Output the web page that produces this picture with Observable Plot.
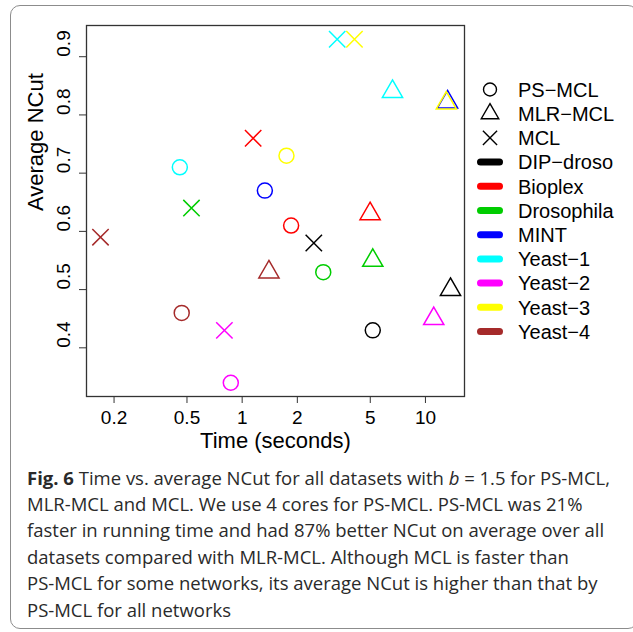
<!DOCTYPE html>
<html>
<head>
<meta charset="utf-8">
<script src="https://cdn.jsdelivr.net/npm/d3@7"></script>
<script src="https://cdn.jsdelivr.net/npm/@observablehq/plot@0.6"></script>
<style>
  html, body { margin: 0; padding: 0; background: #fff; }
  #wrap { position: relative; width: 633px; height: 632px; overflow: hidden; }
  #box { position: absolute; left: 10px; top: 5px; width: 628px; height: 624px;
         border: 1.5px solid #8c8c8c; border-radius: 10px; box-sizing: border-box; }
  #chart { position: absolute; left: 0; top: 0; }
  #legend { position: absolute; left: 0; top: 0; }
  #cap { position: absolute; left: 27px; top: 464.6px; font-family: "Open Sans", sans-serif;
         font-size: 18.6px; line-height: 26.4px; color: #2a2a2a; transform-origin: 0 0; white-space: nowrap; }
  #cap b { font-weight: 700; }
</style>
</head>
<body>
<div id="wrap">
  <div id="box"></div>
  <div id="chart"></div>
  <svg id="legend" width="633" height="460"></svg>
  <div id="cap">
    <div class="ln" id="ln1"><b>Fig. 6</b> Time vs. average NCut for all datasets with <i>b</i> = 1.5 for PS-MCL,</div>
    <div class="ln">MLR-MCL and MCL. We use 4 cores for PS-MCL. PS-MCL was 21%</div>
    <div class="ln">faster in running time and had 87% better NCut on average over all</div>
    <div class="ln">datasets compared with MLR-MCL. Although MCL is faster than</div>
    <div class="ln">PS-MCL for some networks, its average NCut is higher than that by</div>
    <div class="ln">PS-MCL for all networks</div>
  </div>
</div>
<script>
// ---- data ----
const datasets = ["DIP-droso", "Bioplex", "Drosophila", "MINT", "Yeast-1", "Yeast-2", "Yeast-3", "Yeast-4"];
const colors   = ["#000000", "#FF0000", "#00CD00", "#0000FF", "#00FFFF", "#FF00FF", "#FFFF00", "#A52A2A"];
const methods  = ["PS-MCL", "MLR-MCL", "MCL"];
const symbols  = ["circle", "triangle", "times"];

// Time (seconds) and Average NCut per dataset
const psTime  = [5.16, 1.85, 2.77, 1.33, 0.457, 0.867, 1.745, 0.468];
const psNcut  = [0.43, 0.61, 0.53, 0.67, 0.71, 0.34, 0.73, 0.46];
const mlrTime = [13.7, 4.99, 5.16, 13.2, 6.61, 11.1, 13.0, 1.40];
const mlrNcut = [0.50, 0.63, 0.55, 0.822, 0.84, 0.45, 0.82, 0.53];
const mclTime = [2.46, 1.148, 0.529, null, 3.30, 0.80, 4.10, 0.1687];
const mclNcut = [0.58, 0.76, 0.64, null, 0.93, 0.43, 0.93, 0.59];

const xTicks = [0.2, 0.5, 1, 2, 5, 10];
const yTicks = [0.4, 0.5, 0.6, 0.7, 0.8, 0.9];
const xTitle = "Time (seconds)";
const yTitle = "Average NCut";

// ---- build table ----
const series = [[psTime, psNcut], [mlrTime, mlrNcut], [mclTime, mclNcut]];
const points = [];
series.forEach(([ts, ns], m) => {
  datasets.forEach((d, i) => {
    if (ts[i] != null) points.push({set: d, method: methods[m], t: ts[i], n: ns[i]});
  });
});

// R-style 4% padding of the data range
const [tmin, tmax] = d3.extent(points, d => d.t);
const lo = Math.log10(tmin), hi = Math.log10(tmax), px = (hi - lo) * 0.04;
const [nmin, nmax] = d3.extent(points, d => d.n);
const py = (nmax - nmin) * 0.04;

const plot = Plot.plot({
  width: 633, height: 460,
  marginLeft: 86, marginRight: 169, marginTop: 25, marginBottom: 64,
  style: {fontFamily: "'Liberation Sans', Arial, sans-serif", fontSize: "19px", background: "transparent", color: "#000"},
  x: {type: "log", domain: [10 ** (lo - px), 10 ** (hi + px)], axis: null},
  y: {domain: [nmin - py, nmax + py], axis: null},
  color: {type: "ordinal", domain: datasets, range: colors},
  symbol: {domain: methods, range: symbols},
  marks: [
    Plot.frame({stroke: "#333", strokeWidth: 1.3}),
    Plot.axisX({ticks: xTicks, tickSize: 7, tickPadding: 7, tickFormat: d => String(d), label: null, fontSize: 19, stroke: "#333"}),
    Plot.axisY({ticks: yTicks, tickSize: 7, tickFormat: () => "", label: null, stroke: "#333"}),
    Plot.text(yTicks, {y: d => d, text: d => d.toFixed(1), frameAnchor: "left", dx: -22.5, rotate: -90, fontSize: 19}),
    Plot.text([xTitle], {text: d => d, frameAnchor: "bottom", dy: 51, fontSize: 22}),
    Plot.text([yTitle], {text: d => d, frameAnchor: "left", dx: -51, rotate: -90, fontSize: 22}),
    Plot.dot(points, {x: "t", y: "n", symbol: "method", stroke: "set", r: 7.5, strokeWidth: 1.5, fill: "none"})
  ]
});
document.getElementById("chart").appendChild(plot);

// ---- legend ----
const lg = d3.select("#legend");
const symMap = {circle: d3.symbolCircle, triangle: d3.symbolTriangle, times: d3.symbolTimes};
const rowY0 = 89.5, rowStep = 24.2, symX = 490, txtX = 518;
const entries = methods.map((m, i) => ({label: m, sym: symbols[i], color: "#000"}))
  .concat(datasets.map((d, i) => ({label: d, line: true, color: colors[i]})));
entries.forEach((e, i) => {
  const y = rowY0 + i * rowStep;
  if (e.line) {
    lg.append("line").attr("x1", symX - 9.5).attr("x2", symX + 9.5).attr("y1", y).attr("y2", y)
      .attr("stroke", e.color).attr("stroke-width", 7).attr("stroke-linecap", "round");
  } else {
    const r = 6.5;
    lg.append("path").attr("d", d3.symbol(symMap[e.sym], Math.PI * r * r)())
      .attr("transform", `translate(${symX},${y})`).attr("fill", "none").attr("stroke", "#000").attr("stroke-width", 1.4);
  }
  lg.append("text").attr("x", txtX).attr("y", y).attr("dy", "0.36em")
    .attr("font-family", "'Liberation Sans', Arial, sans-serif").attr("font-size", 20)
    .text(e.label.replace(/-/g, "\u2212"));
});

// ---- caption width fit ----
const ln1 = document.getElementById("ln1");
const range = document.createRange();
range.selectNodeContents(ln1);
const w = range.getBoundingClientRect().width;
const s = 583 / w;
document.getElementById("cap").style.transform = `scaleX(${s})`;
</script>
</body>
</html>
